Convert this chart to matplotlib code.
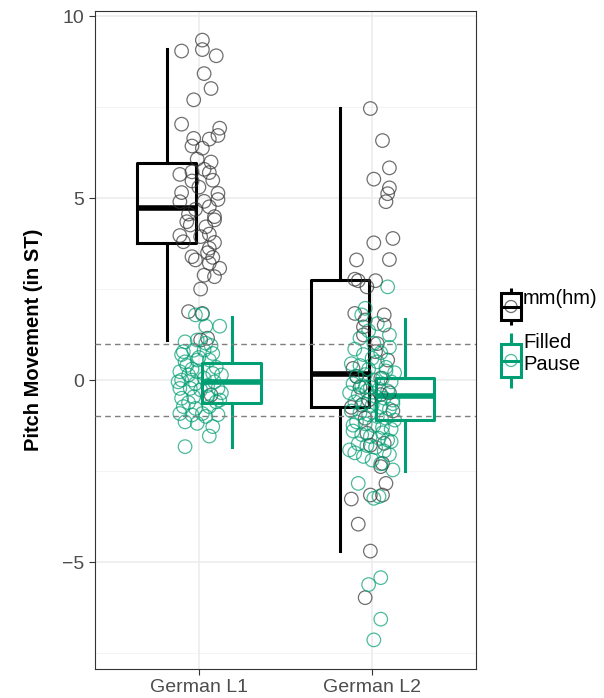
import numpy as np
from matplotlib import pyplot as plt
from matplotlib.patches import Rectangle, Ellipse

plt.rcParams['font.family'] = ['Liberation Sans', 'DejaVu Sans']

# groups and their x positions
groups = ['German L1', 'German L2']
hes_names = ['mm(hm)', 'Filled Pause']
colors = {'mm(hm)': '#000000', 'Filled Pause': '#009E73'}
point_colors = {'mm(hm)': '#333333', 'Filled Pause': '#009E73'}

# box statistics: whislo, q1, med, q3, whishi
box_stats = {
    ('German L1', 'mm(hm)'): [1.10, 3.76, 4.72, 5.96, 9.09],
    ('German L1', 'Filled Pause'): [-1.84, -0.63, -0.05, 0.47, 1.73],
    ('German L2', 'mm(hm)'): [-4.70, -0.74, 0.16, 2.75, 7.47],
    ('German L2', 'Filled Pause'): [-2.50, -1.10, -0.44, 0.05, 1.68],
}

# jittered observations (offset from group centre, value in ST)
l1_mm_dx = [-0.10, 0.02, 0.02, 0.10, 0.03, 0.07, -0.03, -0.10, 0.12, 0.11, 0.06, -0.03,
            -0.04, 0.02, -0.01, 0.07, 0.03, -0.04, -0.11, 0.06, 0.08, -0.04, 0.11, -0.10,
            -0.11, 0.11, 0.03, 0.06, -0.02, 0.09, 0.09, -0.06, -0.05, 0.04, -0.11, -0.09,
            0.01, 0.06, 0.09, 0.06, -0.04, -0.02, 0.08, 0.06, 0.12, 0.03, 0.09, 0.01,
            -0.06, 0.02, 0.05, 0.01, 0.07, -0.07, 0.00, 0.05]
l1_mm_y = [9.04, 9.34, 9.08, 8.91, 8.42, 8.01, 7.70, 7.03, 6.92, 6.72, 6.62, 6.64,
           6.43, 6.37, 6.07, 5.99, 5.79, 5.72, 5.65, 5.70, 5.49, 5.47, 5.13, 5.15,
           4.90, 4.96, 4.91, 4.76, 4.69, 4.49, 4.40, 4.56, 4.26, 4.21, 3.97, 3.80,
           3.94, 4.01, 3.78, 3.62, 3.39, 3.30, 3.37, 3.21, 3.07, 2.88, 2.84, 2.50,
           1.88, 1.83, 1.15, 1.10, -0.41, 4.35, 5.30, 3.50]

l1_fp_dx = [-0.02, 0.02, 0.04, 0.12, -0.08, -0.01, 0.04, -0.09, -0.03, 0.03, 0.08, -0.08,
            -0.01, 0.06, -0.11, -0.06, -0.01, 0.08, 0.13, -0.10, -0.04, 0.09, -0.11, -0.05,
            0.01, 0.11, -0.10, -0.03, 0.05, 0.12, -0.09, -0.02, 0.06, -0.11, -0.04, 0.02,
            -0.08, -0.01, 0.08, 0.06, -0.08, 0.10, -0.07, 0.03, -0.02, 0.10, -0.06, 0.04,
            -0.10, 0.11, 0.07, -0.04, 0.13, 0.00, -0.12, 0.05]
l1_fp_y = [1.79, 1.81, 1.48, 1.48, 1.05, 1.10, 1.01, 0.78, 0.82, 0.82, 0.73, 0.50,
           0.55, 0.55, 0.23, 0.14, 0.23, 0.18, 0.14, 0.00, 0.00, -0.05, -0.23, -0.23,
           -0.27, -0.23, -0.50, -0.46, -0.46, -0.55, -0.73, -0.78, -0.73, -0.92, -0.96, -0.92,
           -1.15, -1.19, -1.28, -1.54, -1.83, 0.35, 0.40, 0.05, -0.10, -0.60, -0.62, -1.00,
           0.70, -0.95, 0.95, 0.30, -0.35, 0.62, -0.05, -0.15]

l2_mm_dx = [-0.01, 0.06, 0.10, 0.01, 0.10, 0.09, 0.08, 0.12, 0.01, -0.09, 0.10, -0.10,
            -0.08, 0.02, -0.03, -0.10, 0.07, -0.04, 0.07, -0.05, -0.05, 0.02, -0.11, -0.06,
            -0.12, -0.03, -0.01, 0.07, 0.06, 0.05, 0.08, -0.12, -0.01, 0.06, -0.08, -0.01,
            -0.04, 0.05, -0.07, 0.10, -0.02, 0.09, -0.09, 0.03, 0.12, -0.04, 0.05]
l2_mm_y = [7.46, 6.58, 5.83, 5.52, 5.28, 5.12, 4.90, 3.89, 3.77, 3.30, 3.31, 2.77,
           2.73, 2.73, 2.56, 1.83, 1.79, 1.65, 1.51, 1.24, 1.46, 0.78, 0.32, -0.69,
           -0.75, -1.46, -1.79, -1.74, -2.29, -2.38, -2.84, -3.27, -3.16, -3.16, -3.96, -4.70,
           -5.98, 0.05, -0.20, -0.35, -0.55, 0.55, 0.10, 1.00, -0.85, -1.05, -0.40]

l2_fp_dx = [0.09, -0.04, 0.10, -0.06, 0.01, -0.11, -0.13, -0.08, 0.12, 0.11, 0.01, 0.04,
            0.05, -0.02, 0.05, 0.01,
            -0.10, -0.05, 0.00, 0.05, 0.10, -0.12, -0.07, -0.02, 0.03, 0.08, 0.13, -0.09,
            -0.04, 0.01, 0.06, 0.11, -0.11, -0.06, -0.01, 0.04, 0.09, -0.13, -0.08, -0.03,
            0.02, 0.07, 0.12, -0.10, -0.05, 0.00, 0.05, 0.10, -0.12, -0.07, -0.02, 0.03,
            0.08, 0.13, -0.09, -0.04, 0.01, 0.06, 0.11, -0.11, -0.06, -0.01, 0.04, 0.09,
            -0.08, -0.03, 0.02, 0.07, -0.10, -0.05, 0.00, 0.05, 0.10, -0.07, -0.02, 0.03,
            0.08, -0.04, 0.06, 0.12]
l2_fp_y = [2.56, 1.97, 1.24, 1.79, 1.01, -1.24, -1.92, -2.84, -2.47, -1.69, -3.25, -3.20,
           -5.43, -5.62, -6.57, -7.14,
           0.85, 0.70, 0.60, 0.75, 0.90, 0.45, 0.40, 0.30, 0.50, 0.35, 0.20, 0.10,
           0.15, 0.00, 0.05, -0.05, -0.10, -0.15, -0.20, -0.25, -0.30, -0.35, -0.40, -0.30,
           -0.45, -0.50, -0.55, -0.60, -0.65, -0.70, -0.75, -0.80, -0.85, -0.90, -0.95, -1.00,
           -1.05, -1.10, -1.15, -1.20, -1.25, -1.30, -1.35, -1.40, -1.50, -1.55, -1.60, -1.65,
           -1.75, -1.80, -1.85, -1.95, -2.00, -2.10, -2.20, -2.30, -2.05, 1.15, 1.35, 1.55,
           0.25, -0.20, -1.45, -0.65]

points = {
    ('German L1', 'mm(hm)'): (l1_mm_dx, l1_mm_y),
    ('German L1', 'Filled Pause'): (l1_fp_dx, l1_fp_y),
    ('German L2', 'mm(hm)'): (l2_mm_dx, l2_mm_y),
    ('German L2', 'Filled Pause'): (l2_fp_dx, l2_fp_y),
}

fig = plt.figure(figsize=(6.04, 6.98), dpi=100)
ax = fig.add_axes([95 / 604, 1 - 669 / 698, (476 - 95) / 604, (669 - 11) / 698])

# grid like theme_bw
for y in [-7.5, -2.5, 2.5, 7.5]:
    ax.axhline(y, color='#F2F2F2', lw=0.6, zorder=0)
for y in [-5, 0, 5, 10]:
    ax.axhline(y, color='#EBEBEB', lw=1.1, zorder=0)
for i in range(len(groups)):
    ax.axvline(i + 1, color='#EBEBEB', lw=1.1, zorder=0)

dodge = {'mm(hm)': -0.185, 'Filled Pause': 0.19}
for gi, g in enumerate(groups):
    for h in hes_names:
        lo, q1, med, q3, hi = box_stats[(g, h)]
        st = [dict(whislo=lo, q1=q1, med=med, q3=q3, whishi=hi, fliers=[])]
        c = colors[h]
        ax.bxp(st, positions=[gi + 1 + dodge[h]], widths=0.34, showcaps=False,
               boxprops=dict(color=c, lw=2.2), whiskerprops=dict(color=c, lw=2.2),
               medianprops=dict(color=c, lw=4), manage_ticks=False, zorder=2)

for gi, g in enumerate(groups):
    for h in hes_names:
        dx, yv = points[(g, h)]
        ax.scatter(gi + 1 + np.array(dx), yv, s=95, facecolors='none',
                   edgecolors=point_colors[h], linewidths=0.9, alpha=0.7, zorder=3)

ax.axhline(1, color='#7F7F7F', ls=(0, (4, 3)), lw=1.0, zorder=4)
ax.axhline(-1, color='#7F7F7F', ls=(0, (4, 3)), lw=1.0, zorder=4)

ax.set_xlim(0.4, 2.6)
ax.set_ylim(-7.94, 10.14)
ax.set_xticks([1, 2])
ax.set_xticklabels(groups)
ax.set_yticks([-5, 0, 5, 10])
ax.set_yticklabels(['\u22125', '0', '5', '10'])
ax.tick_params(colors='#333333', labelcolor='#4D4D4D', labelsize=14, length=4, width=0.8)
for s in ax.spines.values():
    s.set_color('#333333')
    s.set_linewidth(0.8)
ax.set_ylabel('Pitch Movement (in ST)', fontsize=14.5, fontweight='bold', labelpad=14)

# legend drawn by hand in pixel coordinates
lax = fig.add_axes([490 / 604, 1 - 400 / 698, 114 / 604, 120 / 698])
lax.set_xlim(490, 604)
lax.set_ylim(400, 280)
lax.axis('off')
keys = [('mm(hm)', 288, 293, 320, 325, ['mm(hm)']),
        ('Filled Pause', 333, 344, 377, 388, ['Filled', 'Pause'])]
for h, wt, bt, bb, wb, lines in keys:
    c = colors[h]
    xc = 511
    lax.plot([xc, xc], [wt, bt], color=c, lw=2.2, solid_capstyle='butt')
    lax.plot([xc, xc], [bb, wb], color=c, lw=2.2, solid_capstyle='butt')
    lax.add_patch(Rectangle((501, bt), 20, bb - bt, fill=False, ec=c, lw=2.2))
    ym = (bt + bb) / 2
    lax.plot([501, 521], [ym, ym], color=c, lw=2.2)
    lax.add_patch(Ellipse((xc, ym), 12, 12, fill=False, ec=point_colors[h], lw=0.9, alpha=0.7))
    for k, t in enumerate(lines):
        lax.text(523, (wt + 10) + k * 22, t, fontsize=14.5, va='center', ha='left', color='#000000')

fig.savefig('out.png', dpi=100)
